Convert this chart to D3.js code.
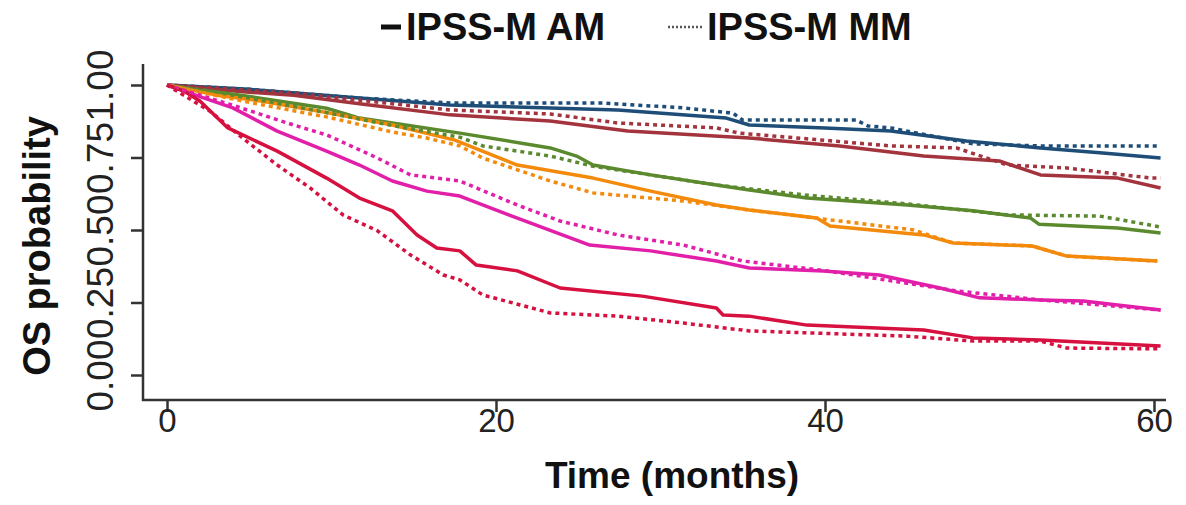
<!DOCTYPE html>
<html>
<head>
<meta charset="utf-8">
<script src="https://cdn.jsdelivr.net/npm/d3@7"></script>
<style>
  html, body { margin: 0; padding: 0; background: #fff; }
  svg { display: block; font-family: "Liberation Sans", Arial, sans-serif; }
</style>
</head>
<body>
<div id="chart"></div>
<script>
// Kaplan-Meier curves: [month, OS probability]
const veryLowAM = [[0,1],[5,0.985],[11.7,0.955],[17.2,0.931],[27.4,0.914],[34.0,0.886],[35.4,0.862],[40,0.852],[44.0,0.841],[48.6,0.807],[53.1,0.783],[56.7,0.766],[60.4,0.748]];
const veryLowMM = [[0,1],[5,0.985],[11.7,0.955],[17.2,0.938],[26.5,0.938],[31.4,0.921],[34.4,0.903],[35.0,0.879],[41.9,0.879],[42.6,0.859],[44.0,0.852],[49.0,0.797],[53.1,0.790],[60.4,0.790]];
const lowAM = [[0,1],[5,0.975],[7.7,0.965],[11.7,0.935],[17.2,0.897],[23.3,0.876],[28.0,0.841],[35.4,0.817],[40.9,0.790],[46.0,0.755],[50.6,0.738],[53.1,0.690],[57.8,0.679],[60.4,0.645]];
const lowMM = [[0,1],[7.7,0.972],[17.2,0.914],[23.3,0.900],[27.4,0.869],[33.4,0.852],[34.8,0.834],[44.0,0.790],[48.0,0.783],[51.1,0.724],[54.7,0.714],[59.8,0.679],[60.4,0.679]];
const modLowAM = [[0,1],[5,0.96],[9.7,0.92],[11.7,0.886],[17.8,0.834],[23.3,0.783],[24.9,0.755],[25.9,0.724],[29.4,0.690],[33.4,0.655],[35.4,0.638],[38.9,0.610],[45.0,0.586],[49.0,0.566],[52.5,0.541],[53.0,0.520],[57.8,0.507],[60.4,0.490]];
const modLowMM = [[0,1],[5,0.955],[9.7,0.905],[13.7,0.860],[17.8,0.820],[19.2,0.790],[23.3,0.755],[25.9,0.720],[29.4,0.690],[33.4,0.655],[38.9,0.620],[45.0,0.590],[51.1,0.552],[56.7,0.548],[58.5,0.530],[60.4,0.510]];
const modHighAM = [[0,1],[3,0.965],[5.7,0.945],[9.7,0.905],[13.7,0.862],[17.5,0.810],[21.3,0.724],[25.9,0.679],[29.4,0.634],[33.4,0.586],[35.4,0.569],[39.5,0.541],[40.3,0.514],[46.0,0.483],[47.8,0.455],[52.6,0.445],[54.7,0.410],[60.2,0.393]];
const modHighMM = [[0,1],[5,0.94],[9.7,0.89],[13.7,0.838],[15.8,0.817],[17.8,0.790],[19.2,0.748],[23.3,0.669],[25.9,0.628],[28.0,0.617],[31.4,0.600],[35.4,0.569],[40.9,0.531],[45.4,0.500],[47.8,0.455],[52.6,0.445],[54.7,0.410],[60.2,0.393]];
const highAM = [[0,1],[2,0.96],[4.0,0.921],[6.7,0.841],[9.7,0.772],[11.7,0.724],[13.7,0.669],[15.8,0.634],[17.8,0.617],[21.3,0.541],[25.7,0.448],[29.4,0.428],[33.4,0.393],[35.4,0.369],[39.9,0.359],[43.3,0.345],[47.0,0.300],[49.4,0.266],[53.1,0.259],[55.7,0.255],[60.4,0.224]];
const highMM = [[0,1],[4.0,0.930],[7.7,0.862],[9.7,0.828],[12.8,0.748],[14.8,0.690],[17.8,0.669],[21.3,0.586],[23.9,0.531],[27.4,0.483],[31.4,0.448],[35.0,0.393],[40.0,0.360],[48.0,0.290],[53.1,0.259],[60.4,0.224]];
const veryHighAM = [[0,1],[1.0,0.98],[2.0,0.945],[3.7,0.852],[6.7,0.772],[9.7,0.679],[11.7,0.610],[13.7,0.566],[15.2,0.483],[16.4,0.438],[17.8,0.428],[18.8,0.379],[21.3,0.359],[23.9,0.300],[28.9,0.272],[33.4,0.231],[33.8,0.207],[35.4,0.203],[38.9,0.172],[46.0,0.155],[49.0,0.128],[53.1,0.121],[54.3,0.117],[60.4,0.100]];
const veryHighMM = [[0,1],[2.6,0.910],[4.6,0.817],[6.7,0.724],[8.7,0.645],[10.7,0.552],[12.8,0.497],[14.8,0.414],[16.8,0.345],[17.8,0.328],[19.2,0.276],[23.3,0.214],[27.4,0.203],[31.4,0.179],[35.4,0.152],[45.0,0.134],[49.0,0.117],[53.1,0.117],[54.7,0.093],[60.4,0.090]];

const groupColors = ['#1e4d78', '#a3333d', '#5b8a2e', '#f38a0c', '#e21fa9', '#d6103f'];
const amSeries = [veryLowAM, lowAM, modLowAM, modHighAM, highAM, veryHighAM];
const mmSeries = [veryLowMM, lowMM, modLowMM, modHighMM, highMM, veryHighMM];

const xTicks = [0, 20, 40, 60];
const yTicks = [0, 0.25, 0.5, 0.75, 1];
const legendLabels = ['IPSS-M AM', 'IPSS-M MM'];

const W = 1186, H = 505;
const svg = d3.select('#chart').append('svg')
    .attr('width', W)
    .attr('height', H);

const x = d3.scaleLinear().domain([0, 60]).range([167, 1154]);
const y = d3.scaleLinear().domain([0, 1]).range([375, 85]);

const axisColor = '#333';

// Axis lines (L shape)
svg.append('line')
    .attr('x1', 143).attr('x2', 143).attr('y1', 64).attr('y2', 401)
    .attr('stroke', axisColor).attr('stroke-width', 2.5);
svg.append('line')
    .attr('x1', 142).attr('x2', 1166).attr('y1', 400).attr('y2', 400)
    .attr('stroke', axisColor).attr('stroke-width', 2.5);

// Y axis ticks + rotated labels
const gy = svg.append('g').attr('transform', 'translate(143,0)')
    .call(d3.axisLeft(y).tickValues(yTicks).tickSize(12).tickFormat(d3.format('.2f')));
gy.select('.domain').remove();
gy.selectAll('.tick line').attr('stroke', axisColor).attr('stroke-width', 2.5);
gy.selectAll('.tick text')
    .attr('x', null).attr('dy', null)
    .attr('transform', 'translate(-30,0) rotate(-90)')
    .attr('text-anchor', 'middle')
    .attr('fill', '#222')
    .style('font-size', '37px');

// X axis ticks + labels
const gx = svg.append('g').attr('transform', 'translate(0,400)')
    .call(d3.axisBottom(x).tickValues(xTicks).tickSize(12));
gx.select('.domain').remove();
gx.selectAll('.tick line').attr('stroke', axisColor).attr('stroke-width', 2.5);
gx.selectAll('.tick text')
    .attr('y', 32).attr('dy', null)
    .attr('fill', '#222')
    .style('font-size', '33px');

// Curves
const line = d3.line().x(d => x(d[0])).y(d => y(d[1]));

const curves = svg.append('g').attr('fill', 'none').attr('stroke-linejoin', 'round');
amSeries.forEach((s, i) => {
    curves.append('path')
        .attr('d', line(s))
        .attr('stroke', groupColors[i])
        .attr('stroke-width', 3.5);
});
mmSeries.forEach((s, i) => {
    curves.append('path')
        .attr('d', line(s))
        .attr('stroke', groupColors[i])
        .attr('stroke-width', 3.5)
        .attr('stroke-dasharray', '4,4');
});

// Axis titles
svg.append('text')
    .attr('transform', 'translate(50,246) rotate(-90)')
    .attr('text-anchor', 'middle')
    .attr('font-weight', 'bold')
    .style('font-size', '38px')
    .attr('fill', '#111')
    .text('OS probability');

svg.append('text')
    .attr('x', 672).attr('y', 488)
    .attr('text-anchor', 'middle')
    .attr('font-weight', 'bold')
    .style('font-size', '37px')
    .attr('fill', '#111')
    .text('Time (months)');

// Legend
const legend = svg.append('g');
legend.append('line')
    .attr('x1', 381).attr('x2', 401).attr('y1', 27).attr('y2', 27)
    .attr('stroke', '#111').attr('stroke-width', 5);
legend.append('text')
    .attr('x', 406).attr('y', 40)
    .attr('font-weight', 'bold')
    .style('font-size', '38px')
    .attr('fill', '#111')
    .text(legendLabels[0]);
legend.append('line')
    .attr('x1', 668).attr('x2', 702).attr('y1', 27).attr('y2', 27)
    .attr('stroke', '#555').attr('stroke-width', 2.5)
    .attr('stroke-dasharray', '2,2');
legend.append('text')
    .attr('x', 707).attr('y', 40)
    .attr('font-weight', 'bold')
    .style('font-size', '38px')
    .attr('fill', '#111')
    .text(legendLabels[1]);
</script>
</body>
</html>
